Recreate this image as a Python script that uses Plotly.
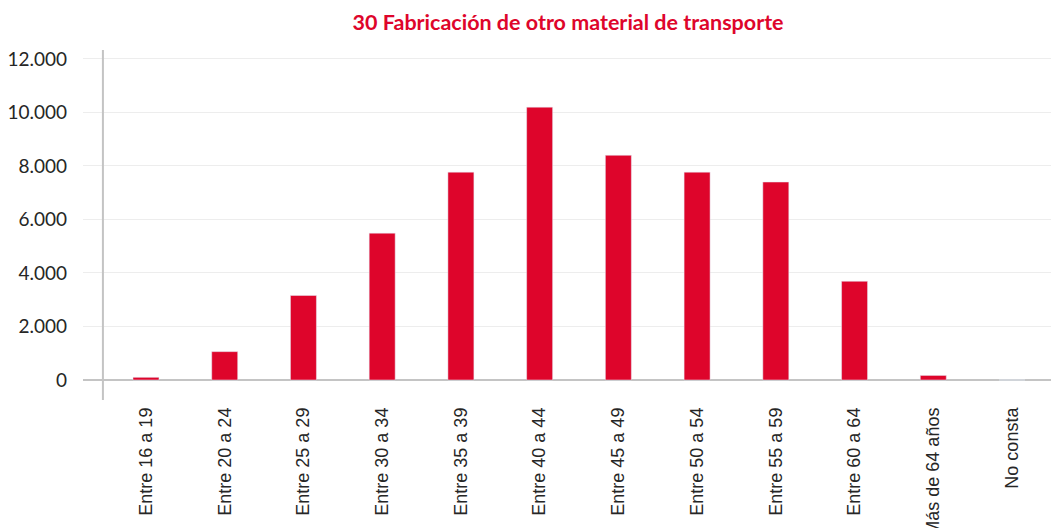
import plotly.graph_objects as go

categories = ["Entre 16 a 19", "Entre 20 a 24", "Entre 25 a 29", "Entre 30 a 34",
              "Entre 35 a 39", "Entre 40 a 44", "Entre 45 a 49", "Entre 50 a 54",
              "Entre 55 a 59", "Entre 60 a 64", "Más de 64 años", "No consta"]
values = [100, 1060, 3160, 5490, 7770, 10200, 8400, 7770, 7400, 3690, 170, 0]
y_ticks = [0, 2000, 4000, 6000, 8000, 10000, 12000]

RED = "#DE052B"
FONT = "Lato, 'Open Sans', sans-serif"
XFONT = "'Liberation Sans', Arial, sans-serif"

fig = go.Figure(go.Bar(x=categories, y=values, marker_color=RED, width=0.33))

fig.update_layout(
    width=1067, height=528,
    margin=dict(l=75, r=0, t=42, b=136, autoexpand=False),
    plot_bgcolor="white", paper_bgcolor="white",
    separators=",.",
    showlegend=False,
    font=dict(family=FONT, size=18, color="#262626"),
    title=dict(text="<b>30 Fabricación de otro material de transporte</b>",
               x=0.489, xref="paper", xanchor="center", yref="container",
               y=0.973, yanchor="middle",
               font=dict(family=FONT, size=21.5, color=RED)),
)
fig.update_xaxes(type="category", range=[-0.8, 11.8], showgrid=False, showline=False,
                 zeroline=False, tickangle=-90, ticks="", ticklabelstandoff=3,
                 automargin=False,
                 tickfont=dict(family=XFONT, size=18, color="#262626"))
fig.update_yaxes(range=[-748, 12336], tickvals=y_ticks, tickformat=",d",
                 showgrid=True, gridcolor="#EDEDED", gridwidth=1,
                 zeroline=True, zerolinecolor="#C4C4C4", zerolinewidth=2,
                 showline=False, ticks="", ticklabelstandoff=15, automargin=False,
                 tickfont=dict(family=FONT, size=19, color="#262626"))
fig.add_shape(type="line", xref="x", yref="paper", x0=-0.547, x1=-0.547, y0=0, y1=1,
              line=dict(color="#C4C4C4", width=2))
fig.write_html("out.html")
